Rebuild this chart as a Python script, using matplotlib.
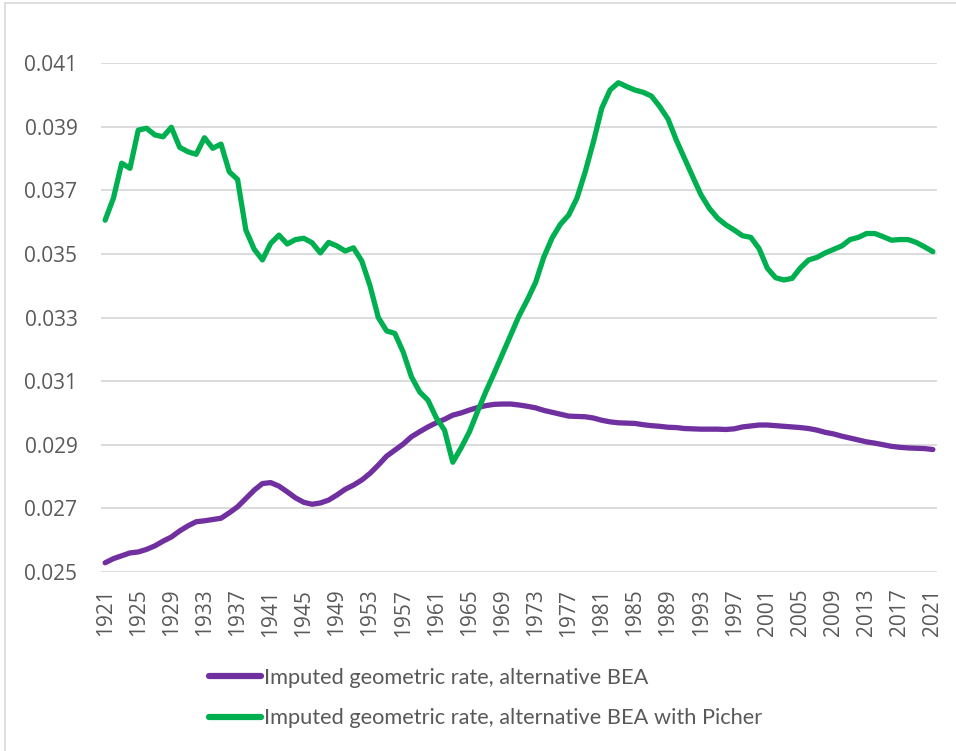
import matplotlib
matplotlib.use("Agg")
import matplotlib.pyplot as plt
from matplotlib.lines import Line2D

years = list(range(1921, 2022))

alt_bea = [
    0.02529, 0.02542, 0.02551, 0.02560, 0.02563, 0.02571, 0.02582, 0.02597, 0.02610, 0.02629,
    0.02645, 0.02658, 0.02661, 0.02665, 0.02669, 0.02686, 0.02705, 0.02731, 0.02757, 0.02778,
    0.02781, 0.02770, 0.02752, 0.02733, 0.02719, 0.02713, 0.02717, 0.02726, 0.02742, 0.02760,
    0.02773, 0.02789, 0.02810, 0.02836, 0.02864, 0.02883, 0.02902, 0.02925, 0.02941, 0.02956,
    0.02969, 0.02980, 0.02993, 0.03000, 0.03009, 0.03017, 0.03023, 0.03027, 0.03028, 0.03028,
    0.03025, 0.03021, 0.03016, 0.03008, 0.03002, 0.02996, 0.02990, 0.02989, 0.02988, 0.02984,
    0.02977, 0.02972, 0.02969, 0.02968, 0.02967, 0.02963, 0.02960, 0.02958, 0.02955, 0.02954,
    0.02951, 0.02950, 0.02949, 0.02949, 0.02949, 0.02948, 0.02950, 0.02956, 0.02959, 0.02962,
    0.02962, 0.02960, 0.02958, 0.02956, 0.02954, 0.02951, 0.02946, 0.02939, 0.02934, 0.02927,
    0.02921, 0.02915, 0.02909, 0.02905, 0.02900, 0.02895, 0.02892, 0.02890, 0.02889, 0.02888,
    0.02885,
]

alt_bea_picher = [
    0.03606, 0.03675, 0.03785, 0.03769, 0.03889, 0.03895, 0.03874, 0.03868, 0.03898, 0.03835,
    0.03821, 0.03813, 0.03865, 0.03832, 0.03845, 0.03758, 0.03734, 0.03575, 0.03515, 0.03481,
    0.03533, 0.03559, 0.03531, 0.03545, 0.03549, 0.03535, 0.03503, 0.03536, 0.03525, 0.03509,
    0.03519, 0.03478, 0.03400, 0.03300, 0.03258, 0.03250, 0.03192, 0.03114, 0.03066, 0.03040,
    0.02985, 0.02946, 0.02845, 0.02890, 0.02940, 0.03005, 0.03067, 0.03125, 0.03185, 0.03245,
    0.03305, 0.03355, 0.03410, 0.03490, 0.03550, 0.03593, 0.03622, 0.03675, 0.03758, 0.03853,
    0.03958, 0.04015, 0.04038, 0.04026, 0.04015, 0.04008, 0.03996, 0.03963, 0.03924, 0.03858,
    0.03800, 0.03742, 0.03685, 0.03643, 0.03612, 0.03591, 0.03575, 0.03557, 0.03552, 0.03517,
    0.03455, 0.03425, 0.03418, 0.03423, 0.03456, 0.03481, 0.03489, 0.03503, 0.03514, 0.03525,
    0.03545, 0.03552, 0.03564, 0.03564, 0.03554, 0.03543, 0.03545, 0.03545, 0.03536, 0.03522,
    0.03507,
]

labels = ["Imputed geometric rate, alternative BEA",
          "Imputed geometric rate, alternative BEA with Picher"]
yticks = [0.025, 0.027, 0.029, 0.031, 0.033, 0.035, 0.037, 0.039, 0.041]
xtick_years = years[::4]

purple = "#7030a0"
green = "#00b050"
grey_text = "#595959"

plt.rcParams["font.family"] = ["Open Sans", "DejaVu Sans"]

fig = plt.figure(figsize=(9.56, 7.51), dpi=100)
ax = fig.add_axes([101 / 956, 1 - 572 / 751, 836 / 956, 509 / 751])

ax.plot(years, alt_bea, color=purple, linewidth=3.8, solid_capstyle="round",
        solid_joinstyle="round")
ax.plot(years, alt_bea_picher, color=green, linewidth=3.8, solid_capstyle="round",
        solid_joinstyle="round")

ax.set_xlim(1920.5, 2021.5)
ax.set_ylim(0.025, 0.041)
ax.set_yticks(yticks)
ax.set_yticklabels([f"{v:.3f}" for v in yticks])
ax.set_xticks(xtick_years)
ax.set_xticklabels([str(y) for y in xtick_years], rotation=90)
ax.tick_params(axis="y", length=0, pad=17, labelsize=15, labelcolor=grey_text)
ax.tick_params(axis="x", length=0, pad=12, labelsize=15, labelcolor=grey_text)
ax.grid(axis="y", color="#d9d9d9", linewidth=1.3)
ax.set_axisbelow(True)
for s in ax.spines.values():
    s.set_visible(False)

# outer chart border (left and top visible)
fig.add_artist(Line2D([5 / 956, 5 / 956], [0, 1 - 3 / 751], color="#d9d9d9",
                      linewidth=1.2, transform=fig.transFigure))
fig.add_artist(Line2D([5 / 956, 1], [1 - 3 / 751, 1 - 3 / 751], color="#d9d9d9",
                      linewidth=1.2, transform=fig.transFigure))

handles = [Line2D([], [], color=purple, linewidth=4.5, solid_capstyle="round"),
           Line2D([], [], color=green, linewidth=4.5, solid_capstyle="round")]
fig.legend(handles, labels, loc="upper left", bbox_to_anchor=(189 / 956, 1 - 648 / 751),
           frameon=False, handlelength=2.4, handletextpad=0.15, labelspacing=0.95,
           prop={"family": ["Lato", "DejaVu Sans"], "size": 15.7}, labelcolor=grey_text)

fig.savefig("out.png", dpi=100)
